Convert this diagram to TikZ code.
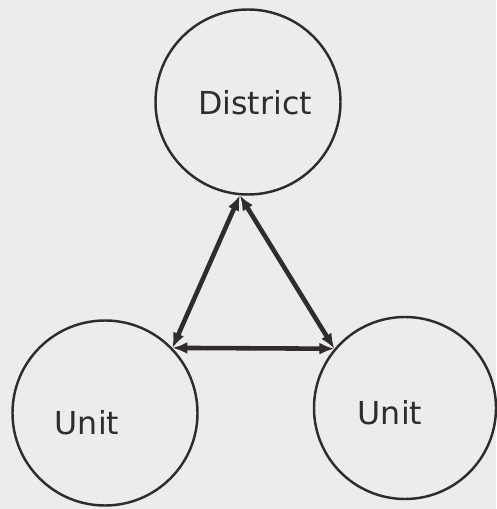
\documentclass[tikz,border=0pt]{standalone}
\usepackage{fontspec}
\setmainfont{DejaVu Sans}
\usepackage{xcolor}
\usepackage{tikz}
\usetikzlibrary{arrows.meta}
\definecolor{papel}{RGB}{236,236,234}
\definecolor{tinta}{RGB}{48,44,44}

\begin{document}
\begin{tikzpicture}[
    nivel/.style={draw=tinta, line width=1.4pt, circle, minimum size=3.7cm, inner sep=0pt},
    rotulo/.style={text=tinta, font=\fontsize{18}{20}\selectfont},
    enlace/.style={draw=tinta, line width=2.6pt, {Latex[length=3mm,width=2.4mm]}-{Latex[length=3mm,width=2.4mm]}}
  ]
        \fill[papel] (0,0) rectangle (9.92,10.18);
        \useasboundingbox (0,0) rectangle (9.92,10.18);
        % círculos
        \node[nivel] (dist) at (4.96,8.14) {};
        \node[nivel] (uizq) at (2.1,1.92) {};
        \node[nivel, minimum size=3.64cm] (uder) at (8.1,2.02) {};
        % rótulos
        \node[rotulo] (tdist) at (5.1,8.12) {District};
        \node[rotulo] (tizq) at (1.74,1.72) {Unit};
        \node[rotulo] (tder) at (7.8,1.92) {Unit};
        % flechas
        \draw[enlace] (dist.-95) -- (uizq.44);
        \draw[enlace] (dist.-95) -- (uder.140);
        \draw[enlace] (uizq.44) -- (uder.140);
      \end{tikzpicture}
\end{document}
